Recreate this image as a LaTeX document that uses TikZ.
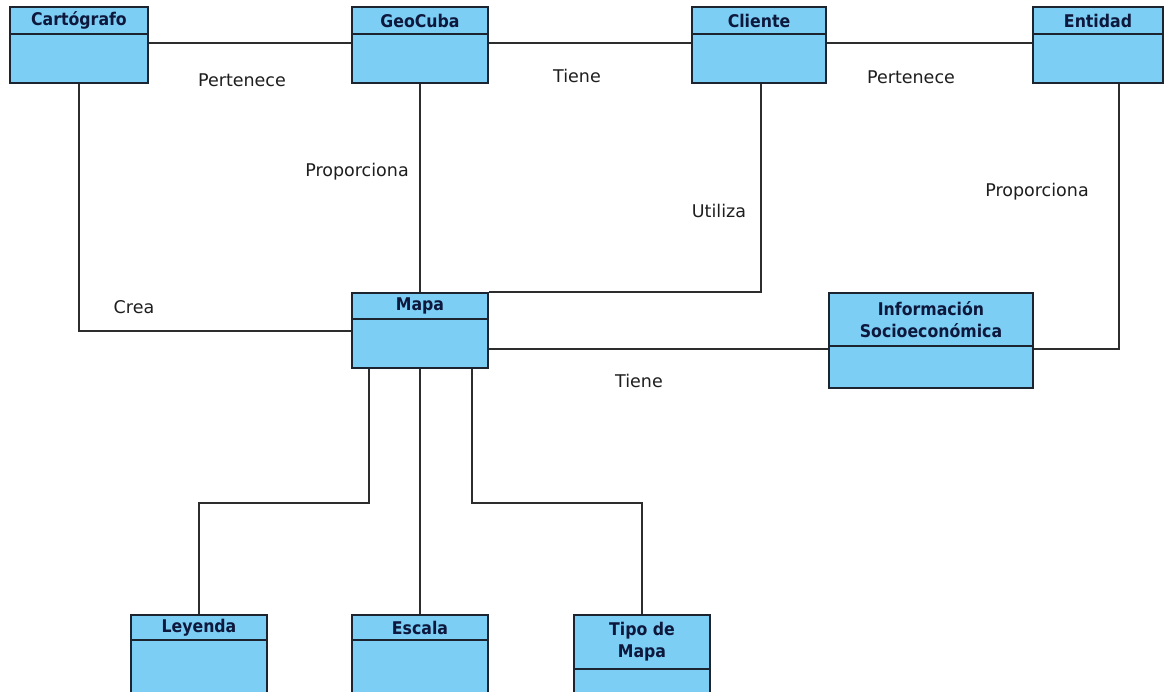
\documentclass[tikz,border=0pt]{standalone}
\usepackage{fontspec}
\setmainfont{DejaVu Sans}
\newfontfamily\titlefont{DejaVu Sans Condensed}
\definecolor{clsfill}{RGB}{124,206,245}
\definecolor{clsdraw}{RGB}{28,36,48}
\definecolor{ttlcol}{RGB}{14,24,60}
\definecolor{wire}{RGB}{45,45,45}
\definecolor{lblcol}{RGB}{30,30,30}
\tikzset{
  cls/.style={draw=clsdraw, fill=clsfill, line width=2pt, rectangle, inner sep=0pt},
  divider/.style={draw=clsdraw, line width=2pt},
  ttl/.style={font=\titlefont\bfseries\fontsize{17.5}{22}\selectfont, text=ttlcol, align=center, inner sep=0pt},
  wirestyle/.style={draw=wire, line width=2pt},
  lbl/.style={font=\fontsize{17.5}{20}\selectfont, text=lblcol, inner sep=0pt}
}
\newcommand\umlbox[7]{%
  \node[cls, minimum width={#4-#2}, minimum height={#5-#3}] (#1) at ({(#2+#4)/2},{(#3+#5)/2}) {};
  \draw[divider] (#2,#6) -- (#4,#6);
  \node[ttl] (#1-t) at ({(#2+#4)/2},{(#3+#6)/2}) {#7};
}
\begin{document}
\begin{tikzpicture}[x=1pt,y=-1pt]
\clip (0,0) rectangle (1166,691);
\fill[white] (0,0) rectangle (1166,691);
% coordinates for connector routes
\coordinate (top) at (0,43);
\coordinate (tl) at (0,349);
\coordinate (ex) at (1119,0);
\coordinate (br) at (0,503);
\coordinate (bl) at (369,0);
\coordinate (bx) at (472,0);
\coordinate (cx) at (761,0);
% boxes
\umlbox{carto}{10}{7}{148}{83}{34}{Cartógrafo}
\umlbox{geo}{352}{7}{488}{83}{34}{GeoCuba}
\umlbox{cli}{692}{7}{826}{83}{34}{Cliente}
\umlbox{ent}{1033}{7}{1163}{83}{34}{Entidad}
\umlbox{mapa}{352}{293}{488}{368}{319}{Mapa}
\umlbox{info}{829}{293}{1033}{388}{346}{Información\\Socioeconómica}
\umlbox{ley}{131}{615}{267}{700}{640}{Leyenda}
\umlbox{esc}{352}{615}{488}{700}{640}{Escala}
\umlbox{tipo}{574}{615}{710}{700}{669}{Tipo de\\Mapa}
% connectors
\begin{scope}[wirestyle]
\draw (carto.east |- top) -- (geo.west |- top);
\draw (geo.east |- top) -- (cli.west |- top);
\draw (cli.east |- top) -- (ent.west |- top);
\draw (carto.south) |- (mapa.west);
\draw (geo.south) -- (mapa.north);
\draw (cli.south -| cx) |- (mapa.north east);
\draw (ent.south -| ex) |- (info.east |- tl);
\draw (mapa.east |- tl) -- (info.west |- tl);
\draw (mapa.south -| bl) |- (br -| ley.north) -- (ley.north);
\draw (mapa.south) -- (esc.north);
\draw (mapa.south -| bx) |- (br -| tipo.north) -- (tipo.north);
\end{scope}
% labels
\node[lbl] (l1) at (242,80) {Pertenece};
\node[lbl] (l2) at (577,76) {Tiene};
\node[lbl] (l3) at (911,77) {Pertenece};
\node[lbl] (l4) at (357,172) {Proporciona};
\node[lbl] (l5) at (1037,192) {Proporciona};
\node[lbl] (l6) at (719,211) {Utiliza};
\node[lbl] (l7) at (134,307) {Crea};
\node[lbl] (l8) at (639,381) {Tiene};
\end{tikzpicture}
\end{document}
